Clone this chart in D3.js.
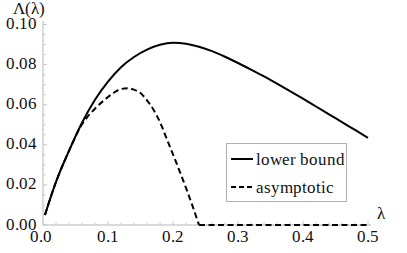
<!DOCTYPE html>
<html>
<head>
<meta charset="utf-8">
<script src="https://cdn.jsdelivr.net/npm/d3@7"></script>
<style>
  @font-face { font-family: "ChartSerif"; src: local("Liberation Serif"), local("LiberationSerif"), local("Liberation Serif Regular"), local("LiberationSerif-Regular"); }
  html, body { margin: 0; padding: 0; background: #fff; }
  #plot text { font-family: "ChartSerif", "Liberation Serif", "Tinos", "Times New Roman", monospace !important; }
</style>
</head>
<body>
<svg id="plot" width="407" height="253"></svg>
<script>
// ---- data ----
const lambdaLower = [0.003, 0.02, 0.04, 0.06, 0.08, 0.10, 0.12, 0.14, 0.16, 0.18, 0.20, 0.22, 0.24, 0.26, 0.28, 0.30, 0.32, 0.34, 0.36, 0.38, 0.40, 0.42, 0.44, 0.46, 0.48, 0.50];
const lowerBound  = [0.005, 0.0215, 0.037, 0.051, 0.0625, 0.0715, 0.0787, 0.0838, 0.0875, 0.0899, 0.0909, 0.0904, 0.0889, 0.0867, 0.0839, 0.0808, 0.0775, 0.0741, 0.0705, 0.0668, 0.0630, 0.0591, 0.0552, 0.0513, 0.0474, 0.0435];

const lambdaAsym = [0.003, 0.02, 0.04, 0.06, 0.08, 0.10, 0.11, 0.12, 0.13, 0.14, 0.15, 0.16, 0.17, 0.18, 0.19, 0.20, 0.21, 0.22, 0.23, 0.24, 0.30, 0.40, 0.50];
const asymptotic = [0.005, 0.0215, 0.037, 0.0502, 0.0580, 0.0638, 0.0662, 0.0678, 0.0682, 0.0675, 0.0658, 0.0622, 0.0575, 0.0513, 0.0433, 0.0352, 0.0270, 0.0185, 0.0095, 0.0, 0.0, 0.0, 0.0];

const xTicks = [0.0, 0.1, 0.2, 0.3, 0.4, 0.5];
const yTicks = [0.00, 0.02, 0.04, 0.06, 0.08, 0.10];
const seriesNames = ["lower bound", "asymptotic"];
const xLabel = "λ";
const yLabel = "Λ(λ)";

// ---- drawing ----
const svg = d3.select("#plot");
const x = d3.scaleLinear().domain([0, 0.5]).range([43, 368]);
const y = d3.scaleLinear().domain([0, 0.10]).range([225, 24.5]);
const axisColor = "#b5b5b5";
const tickColor = "#c8c8c8";

function txt(sel) {
  return sel.attr("font-size", 17).attr("fill", "#111")
    .attr("font-family", "Liberation Serif")
    .attr("style", "font-family: 'ChartSerif', 'Liberation Serif', 'Tinos', monospace; font-size: 17px;");
}

// axis lines
svg.append("line").attr("x1", x(0)).attr("x2", 371).attr("y1", y(0)).attr("y2", y(0))
  .attr("stroke", axisColor).attr("stroke-width", 1);
svg.append("line").attr("x1", x(0)).attr("x2", x(0)).attr("y1", y(0)).attr("y2", 21)
  .attr("stroke", axisColor).attr("stroke-width", 1);

// ticks (major and minor, pointing inward)
const xMinor = d3.range(0, 0.5001, 0.02);
svg.append("g").selectAll("line").data(xMinor).join("line")
  .attr("x1", d => x(d)).attr("x2", d => x(d))
  .attr("y1", y(0)).attr("y2", d => y(0) - (xTicks.some(t => Math.abs(t - d) < 1e-9) ? 4 : 2.5))
  .attr("stroke", tickColor).attr("stroke-width", 1);
const yMinor = d3.range(0, 0.1001, 0.005);
svg.append("g").selectAll("line").data(yMinor).join("line")
  .attr("y1", d => y(d)).attr("y2", d => y(d))
  .attr("x1", x(0)).attr("x2", d => x(0) + (yTicks.some(t => Math.abs(t - d) < 1e-9) ? 4 : 2.5))
  .attr("stroke", tickColor).attr("stroke-width", 1);

// tick labels
txt(svg.append("g").selectAll("text").data(xTicks).join("text")
  .attr("x", d => x(d) - (d === 0 ? 2 : 0)).attr("y", 242)
  .attr("text-anchor", "middle"))
  .text(d => d.toFixed(1));
txt(svg.append("g").selectAll("text").data(yTicks).join("text")
  .attr("x", 37).attr("y", d => y(d) + 4.5)
  .attr("text-anchor", "end"))
  .text(d => d.toFixed(2));

// axis labels
txt(svg.append("text").attr("x", 13).attr("y", 14)).text(yLabel);
txt(svg.append("text").attr("x", 377).attr("y", 219)).text(xLabel);

// curves
const lowerPts = lambdaLower.map((l, i) => [l, lowerBound[i]]);
const asymPts = lambdaAsym.map((l, i) => [l, asymptotic[i]]);
const lineSmooth = d3.line().x(d => x(d[0])).y(d => y(d[1])).curve(d3.curveMonotoneX);
const lineStraight = d3.line().x(d => x(d[0])).y(d => y(d[1]));

svg.append("path").datum(lowerPts).attr("d", lineSmooth)
  .attr("fill", "none").attr("stroke", "#000").attr("stroke-width", 2);

const zeroAt = asymPts.findIndex(d => d[1] === 0);
svg.append("path").datum(asymPts.slice(0, zeroAt + 1)).attr("d", lineSmooth)
  .attr("fill", "none").attr("stroke", "#000").attr("stroke-width", 2)
  .attr("stroke-dasharray", "6,3.5");
svg.append("path").datum(asymPts.slice(zeroAt)).attr("d", lineStraight)
  .attr("fill", "none").attr("stroke", "#000").attr("stroke-width", 2)
  .attr("stroke-dasharray", "6,3.5");

// legend
const lg = svg.append("g");
lg.append("rect").attr("x", 226.5).attr("y", 143.5).attr("width", 120).attr("height", 58)
  .attr("fill", "#fff").attr("stroke", "#b0b0b0").attr("stroke-width", 1);
const legendRows = [{name: seriesNames[0], dash: null, cy: 159}, {name: seriesNames[1], dash: "5,3", cy: 187}];
legendRows.forEach(r => {
  lg.append("line").attr("x1", 231).attr("x2", 253).attr("y1", r.cy).attr("y2", r.cy)
    .attr("stroke", "#000").attr("stroke-width", 2)
    .attr("stroke-dasharray", r.dash);
  txt(lg.append("text").attr("x", 256).attr("y", r.cy + 5.5)).text(r.name);
});
</script>
</body>
</html>
